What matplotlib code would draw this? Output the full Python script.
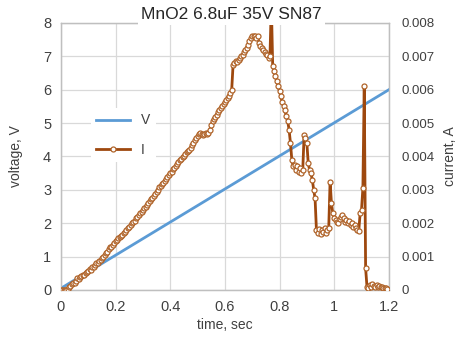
import numpy as np
from matplotlib import pyplot as plt
from matplotlib.lines import Line2D

plt.rcParams['font.family'] = ['Liberation Sans', 'DejaVu Sans']

title = "MnO2 6.8uF 35V SN87"

# voltage ramp (straight line)
volt_time = [0.0, 1.2]
volt_V = [0.05, 6.0]

# current, in mA, sampled every 5 ms starting at t = 0
sample_step = 0.005
current_mA = [
    0.00, 0.00, 0.00, 0.00, 0.00, 0.03, 0.08, 0.12, 0.18, 0.22,
    0.20, 0.28, 0.35, 0.32, 0.40, 0.42, 0.46, 0.44, 0.52, 0.55,
    0.58, 0.62, 0.60, 0.68, 0.70, 0.75, 0.80, 0.82, 0.88, 0.90,
    0.95, 1.00, 1.05, 1.10, 1.15, 1.22, 1.30, 1.28, 1.36, 1.40,
    1.46, 1.50, 1.55, 1.58, 1.62, 1.66, 1.70, 1.75, 1.80, 1.86,
    1.90, 1.94, 2.00, 2.05, 2.08, 2.15, 2.20, 2.25, 2.30, 2.34,
    2.40, 2.46, 2.50, 2.56, 2.62, 2.66, 2.72, 2.76, 2.82, 2.88,
    2.95, 3.00, 3.08, 3.12, 3.18, 3.22, 3.28, 3.32, 3.40, 3.45,
    3.50, 3.55, 3.62, 3.66, 3.70, 3.76, 3.82, 3.88, 3.92, 3.98,
    4.02, 4.06, 4.12, 4.16, 4.20, 4.26, 4.34, 4.40, 4.48, 4.55,
    4.60, 4.66, 4.70, 4.68, 4.64, 4.66, 4.70, 4.66, 4.70, 4.80,
    4.95, 5.05, 5.12, 5.18, 5.25, 5.32, 5.38, 5.45, 5.50, 5.56,
    5.62, 5.68, 5.75, 5.82, 5.90, 6.00, 6.75, 6.80, 6.85, 6.82,
    6.90, 6.95, 7.00, 7.05, 7.12, 7.18, 7.25, 7.35, 7.45, 7.55,
    7.62, 7.60, 7.62, 7.55, 7.60, 7.40, 7.30, 7.25, 7.18, 7.12,
    7.08, 7.05, 6.95, 7.00, 8.60, 6.70, 6.55, 6.40, 6.25, 6.10,
    5.95, 5.80, 5.62, 5.50, 5.38, 5.20, 5.05, 4.80, 4.40, 3.90,
    3.70, 3.75, 3.60, 3.70, 3.55, 3.65, 3.50, 3.60, 4.65, 4.55,
    4.40, 3.80, 3.60, 3.50, 3.30, 3.00, 2.75, 1.80, 1.70, 1.82,
    1.68, 1.80, 1.75, 1.85, 1.70, 1.80, 1.85, 3.25, 2.60, 2.30,
    2.15, 2.10, 2.05, 2.00, 2.12, 2.20, 2.25, 2.15, 2.05, 2.10,
    2.00, 2.08, 1.95, 2.00, 1.90, 1.95, 1.85, 1.80, 1.78, 2.30,
    2.40, 3.05, 6.10, 0.65, 0.10, 0.05, 0.15, 0.10, 0.18, 0.12,
    0.08, 0.15, 0.10, 0.12, 0.08, 0.10, 0.05, 0.06, 0.05, 0.04,
]
curr_time = np.arange(len(current_mA)) * sample_step
curr_A = np.array(current_mA) / 1000.0

x_ticks = [0, 0.2, 0.4, 0.6, 0.8, 1.0, 1.2]
x_labels = ["0", "0.2", "0.4", "0.6", "0.8", "1", "1.2"]
v_ticks = [0, 1, 2, 3, 4, 5, 6, 7, 8]
a_ticks = [0, 0.001, 0.002, 0.003, 0.004, 0.005, 0.006, 0.007, 0.008]
a_labels = ["0", "0.001", "0.002", "0.003", "0.004", "0.005", "0.006", "0.007", "0.008"]

blue = "#5B9BD5"
brown = "#9E480E"
mark_edge = "#B0642A"
grid_c = "#D9D9D9"
text_c = "#404040"

fig = plt.figure(figsize=(4.58, 3.41), dpi=100)
ax = fig.add_axes([0.133, 0.1496, 0.716, 0.783])
ax2 = ax.twinx()

ax.plot(volt_time, volt_V, color=blue, lw=2.0, zorder=3)
ax2.plot(curr_time, curr_A, color=brown, lw=2.0, marker='o', ms=3.6,
         mfc='white', mec=mark_edge, mew=0.9, zorder=3)

ax.set_xlim(0, 1.2)
ax.set_ylim(0, 8)
ax2.set_ylim(0, 0.008)
ax.set_xticks(x_ticks)
ax.set_xticklabels(x_labels)
ax.set_yticks(v_ticks)
ax2.set_yticks(a_ticks)
ax2.set_yticklabels(a_labels)

ax.grid(True, color=grid_c, lw=0.9)
ax.set_axisbelow(True)
for a in (ax, ax2):
    a.tick_params(length=0, colors=text_c, pad=7)
    for s in a.spines.values():
        s.set_color("#BFBFBF")
        s.set_linewidth(0.9)
ax.tick_params(axis='both', labelsize=10.5)
ax2.tick_params(axis='y', labelsize=9.5, pad=9)

ax.set_xlabel("time, sec", fontsize=10, color=text_c, labelpad=3)
ax.set_ylabel("voltage, V", fontsize=10, color=text_c, labelpad=14)
ax2.set_ylabel("current, A", fontsize=10, color=text_c, labelpad=6)

ax2.text(0.52, 1.03, title, transform=ax2.transAxes, ha='center', va='center',
         fontsize=12.5, color="#262626",
         bbox=dict(fc='white', ec='none', pad=2), zorder=10, clip_on=False)

handles = [Line2D([], [], color=blue, lw=2.0),
           Line2D([], [], color=brown, lw=2.0, marker='o', ms=3.6,
                  mfc='white', mec=mark_edge, mew=0.9)]
leg = ax2.legend(handles, ["V", "I"], loc='center left',
                 bbox_to_anchor=(0.07, 0.58), frameon=True, fontsize=10,
                 handlelength=2.4, labelspacing=1.1, borderpad=0.4)
leg.get_frame().set_facecolor('white')
leg.get_frame().set_edgecolor('none')
leg.get_frame().set_alpha(1)
for t in leg.get_texts():
    t.set_color(text_c)

fig.savefig("out.png", dpi=100)
